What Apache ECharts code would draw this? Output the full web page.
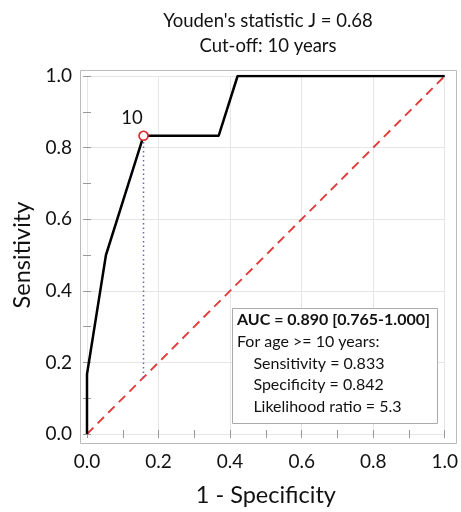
<!DOCTYPE html>
<html><head><meta charset="utf-8">
<script src="https://cdn.jsdelivr.net/npm/echarts@6/dist/echarts.min.js"></script>
<style>html,body{margin:0;padding:0;background:#fff}#c{width:461px;height:512px}</style>
</head><body><div id="c"></div>
<script>
const fpr = [0, 0, 0.053, 0.158, 0.368, 0.421, 1.0];
const tpr = [0, 0.167, 0.5, 0.833, 0.833, 1.0, 1.0];
const diagX = [0, 1];
const diagY = [0, 1];
const cutX = 0.158, cutY = 0.833, cutLabel = '10';
const titleLines = ["Youden's statistic J = 0.68", 'Cut-off: 10 years'];
const boxLines = ['AUC = 0.890 [0.765-1.000]', 'For age >= 10 years:', '    Sensitivity = 0.833', '    Specificity = 0.842', '    Likelihood ratio = 5.3'];
const xName = '1 - Specificity', yName = 'Sensitivity';

const FONT = 'Lato';
const chart = echarts.init(document.getElementById('c'), null, {renderer: 'canvas'});
const tickStyle = {show: true, inside: true, length: 4, lineStyle: {color: '#999', width: 1}};
const minorStyle = {show: true, splitNumber: 2, length: 4, lineStyle: {color: '#999', width: 1}};
function axisBase(extra) {
  return Object.assign({
    type: 'value', min: 0, max: 1, interval: 0.2,
    axisLine: {show: false},
    axisTick: tickStyle, minorTick: minorStyle,
    splitLine: {show: false}
  }, extra);
}
chart.setOption({
  animation: false,
  textStyle: {fontFamily: FONT},
  title: {
    text: titleLines.join('\n'), left: 263, top: 4, textAlign: 'center',
    textStyle: {fontFamily: FONT, fontSize: 18.5, fontWeight: 'normal', color: '#111', lineHeight: 25}
  },
  grid: {left: 87, right: 14, top: 76, bottom: 76},
  xAxis: [
    axisBase({position: 'bottom', offset: 7,
      splitLine: {show: true, lineStyle: {color: '#e6e6e6', width: 1}},
      axisLabel: {fontSize: 19, color: '#111', margin: 11, formatter: v => v.toFixed(1)},
      name: xName, nameLocation: 'middle', nameGap: 42,
      nameTextStyle: {fontSize: 23.5, color: '#111', fontFamily: FONT}}),
    axisBase({position: 'top', offset: 6, axisLabel: {show: false}})
  ],
  yAxis: [
    axisBase({position: 'left', offset: 7,
      splitLine: {show: true, lineStyle: {color: '#e6e6e6', width: 1}},
      axisLabel: {fontSize: 19, color: '#111', margin: 8, formatter: v => v.toFixed(1)},
      name: yName, nameLocation: 'middle', nameGap: 46,
      nameTextStyle: {fontSize: 23.5, color: '#111', fontFamily: FONT}}),
    axisBase({position: 'right', offset: 9, axisLabel: {show: false}})
  ],
  graphic: [
    {type: 'rect', z: 0, shape: {x: 80.5, y: 70.5, width: 376, height: 373}, style: {fill: 'none', stroke: '#bbb', lineWidth: 1}},
    {type: 'rect', z: 100, shape: {x: 232.5, y: 308.5, width: 205, height: 115}, style: {fill: '#fff', stroke: '#aaa', lineWidth: 1}},
    {type: 'text', z: 101, left: 237, top: 312, style: {
      text: '{b|' + boxLines[0] + '}\n' + boxLines.slice(1).map(s => '{n|' + s + '}').join('\n'),
      rich: {
        b: {fontFamily: FONT, fontSize: 16, fontWeight: 'bold', fill: '#111', lineHeight: 21.7},
        n: {fontFamily: FONT, fontSize: 16, fill: '#111', lineHeight: 21.7}
      }
    }}
  ],
  series: [
    {type: 'line', data: diagX.map((x, i) => [x, diagY[i]]), symbol: 'none', z: 2,
      lineStyle: {color: '#e03a3a', width: 1.9, type: [9, 6]}},
    {type: 'line', data: [[cutX, cutX], [cutX, cutY]], symbol: 'none', z: 2,
      lineStyle: {color: '#5b6fa6', width: 1.5, type: [1.5, 3]}},
    {type: 'line', data: fpr.map((x, i) => [x, tpr[i]]), symbol: 'none', z: 3,
      lineStyle: {color: '#000', width: 2.5}},
    {type: 'scatter', data: [[cutX, cutY]], z: 5, symbol: 'circle', symbolSize: 9,
      itemStyle: {color: '#fff', borderColor: '#d62728', borderWidth: 1.6, opacity: 1},
      label: {show: true, formatter: cutLabel, position: [-17, -22], fontSize: 18.5, color: '#111', fontFamily: FONT}}
  ]
});
</script></body></html>
